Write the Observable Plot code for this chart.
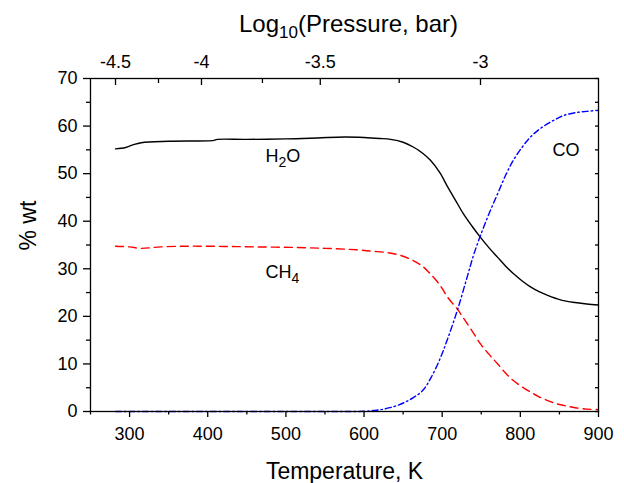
<!DOCTYPE html>
<html>
<head>
<meta charset="utf-8">
<script src="https://cdn.jsdelivr.net/npm/d3@7"></script>
<script src="https://cdn.jsdelivr.net/npm/@observablehq/plot@0.6"></script>
<style>
  html, body { margin: 0; padding: 0; background: #fff; }
  #chart svg { display: block; }
</style>
</head>
<body>
<div id="chart"></div>
<script>
// ---- Data ----
const h2oT = [282, 295, 305, 315, 350, 408, 412, 450, 500, 540, 575, 600, 620, 634, 650, 663, 675, 685, 697, 707, 717, 727, 738, 749, 760, 771, 781, 791, 802, 813, 824, 835, 845, 855, 870, 885, 900];
const h2oV = [55.2, 55.5, 56.1, 56.5, 56.8, 57.0, 57.2, 57.2, 57.3, 57.5, 57.7, 57.6, 57.4, 57.2, 56.6, 55.6, 54.3, 52.8, 50.2, 47.2, 44.4, 41.6, 39.0, 36.6, 34.4, 32.4, 30.6, 29.0, 27.5, 26.2, 25.2, 24.4, 23.8, 23.3, 22.9, 22.6, 22.4];

const ch4T = [282, 300, 314, 340, 378, 420, 460, 506, 550, 590, 610, 630, 647, 663, 675, 685, 697, 707, 720, 727, 738, 749, 760, 771, 781, 791, 802, 813, 824, 835, 845, 855, 870, 885, 900];
const ch4V = [34.75, 34.6, 34.3, 34.6, 34.75, 34.7, 34.6, 34.5, 34.3, 34.0, 33.7, 33.4, 32.8, 31.7, 30.5, 28.9, 26.6, 24.0, 21.4, 19.7, 17.0, 14.2, 12.0, 10.0, 8.1, 6.5, 5.2, 4.1, 3.1, 2.3, 1.7, 1.3, 0.8, 0.5, 0.4];

const coT = [282, 400, 500, 580, 601, 612, 622, 633, 643, 653, 663, 675, 685, 697, 707, 720, 732, 740, 749, 760, 771, 781, 791, 802, 813, 824, 835, 845, 855, 870, 885, 900];
const coV = [0, 0, 0, 0, 0.05, 0.2, 0.4, 0.8, 1.3, 2.0, 2.9, 4.4, 6.9, 11.0, 15.3, 21.6, 28.3, 32.8, 37.0, 41.6, 45.8, 49.6, 52.8, 55.5, 57.7, 59.3, 60.5, 61.4, 62.2, 62.8, 63.1, 63.3];

// curve labels
const labelText = ["H2O", "CH4", "CO"];
const labelT = [474, 474, 841];
const labelV = [53.7, 29.3, 55.0];

// bottom axis (Temperature, K)
const tempMajor = [300, 400, 500, 600, 700, 800, 900];
const tempMinor = [250, 350, 450, 550, 650, 750, 850];
// left axis (% wt)
const wtMajor = [0, 10, 20, 30, 40, 50, 60, 70];
const wtMinor = [5, 15, 25, 35, 45, 55, 65];
const wtRight = [0, 5, 10, 15, 20, 25, 30, 35, 40, 45, 50, 55, 60, 65, 70];
// top axis: Log10(Pressure, bar) ticks, placed at their temperature positions
const pressureMajorLabel = ["-4.5", "-4", "-3.5", "-3"];
const pressureMajorT = [282, 392, 544, 749];
const pressureMinorT = [337, 470, 645];

const FONT = "'Liberation Sans', Arial, Helvetica, sans-serif";
const pMap = new Map(pressureMajorT.map((t, i) => [t, pressureMajorLabel[i]]));

const plot = Plot.plot({
  width: 624,
  height: 483,
  marginLeft: 90,
  marginRight: 26,
  marginTop: 78,
  marginBottom: 72,
  style: { fontFamily: FONT, fontSize: "18px", color: "#000", background: "#fff" },
  x: { domain: [250, 900], axis: null },
  y: { domain: [0, 70], axis: null },
  marks: [
    Plot.line(h2oV, { x: h2oT, y: h2oV, stroke: "#000", strokeWidth: 1.4, curve: "catmull-rom" }),
    Plot.line(ch4V, { x: ch4T, y: ch4V, stroke: "#ff0000", strokeWidth: 1.4, strokeDasharray: "8,5", curve: "catmull-rom" }),
    Plot.line(coV, { x: coT, y: coV, stroke: "#0000ff", strokeWidth: 1.4, strokeDasharray: "6,3,1.5,3", curve: "catmull-rom" }),
    Plot.text(labelText, { x: labelT, y: labelV, text: labelText, textAnchor: "start", lineAnchor: "middle", fontSize: 18, fill: "#000" }),
    Plot.frame({ stroke: "#000", strokeWidth: 1.3 }),
    // bottom axis
    Plot.axisX({ anchor: "bottom", ticks: tempMajor, tickSize: 6, strokeWidth: 1.3, fill: "none" }),
    Plot.axisX({ anchor: "bottom", ticks: tempMinor, tickSize: 3.5, strokeWidth: 1.3, fill: "none" }),
    Plot.axisX({ anchor: "bottom", ticks: tempMajor, tickSize: 0, tickPadding: 16, tickFormat: d => String(d), label: null }),
    // left axis
    Plot.axisY({ anchor: "left", ticks: wtMajor, tickSize: 7, strokeWidth: 1.3, fill: "none" }),
    Plot.axisY({ anchor: "left", ticks: wtMinor, tickSize: 4, strokeWidth: 1.3, fill: "none" }),
    Plot.axisY({ anchor: "left", ticks: wtMajor, tickSize: 0, tickPadding: 13, tickFormat: d => String(d), label: null }),
    // right axis (inward ticks)
    Plot.axisY({ anchor: "right", ticks: wtRight, tickSize: 4, dx: -4, strokeWidth: 1.3, fill: "none" }),
    // top axis (inward ticks)
    Plot.axisX({ anchor: "top", ticks: pressureMajorT, tickSize: 6, dy: 6, strokeWidth: 1.3, fill: "none" }),
    Plot.axisX({ anchor: "top", ticks: pressureMinorT, tickSize: 4, dy: 4, strokeWidth: 1.3, fill: "none" }),
    Plot.axisX({ anchor: "top", ticks: pressureMajorT, tickSize: 0, tickPadding: 11, tickFormat: d => pMap.get(d), label: null }),
    // axis titles
    Plot.text(["Log10(Pressure, bar)"], { frameAnchor: "top", text: d => d, lineAnchor: "bottom", dy: -46.5, dx: 4, fontSize: 24, fill: "#000" }),
    Plot.text(["Temperature, K"], { frameAnchor: "bottom", text: d => d, lineAnchor: "bottom", dy: 67, fontSize: 23, fill: "#000" }),
    Plot.text(["% wt"], { frameAnchor: "left", text: d => d, rotate: -90, lineAnchor: "bottom", dx: -55, dy: 5.5, fontSize: 23, fill: "#000" })
  ]
});

document.getElementById("chart").appendChild(plot);

// subscripts
const subs = {
  "H2O": [["H", 0, null], ["2", 5, 14], ["O", -5, null]],
  "CH4": [["CH", 0, null], ["4", 5, 14]],
  "Log10(Pressure, bar)": [["Log", 0, null], ["10", 6, 17], ["(Pressure, bar)", -6, null]]
};
plot.querySelectorAll("text").forEach(el => {
  const key = el.textContent;
  if (!(key in subs)) return;
  while (el.firstChild) el.removeChild(el.firstChild);
  for (const [s, dy, fs] of subs[key]) {
    const ts = document.createElementNS("http://www.w3.org/2000/svg", "tspan");
    ts.textContent = s;
    if (dy) ts.setAttribute("dy", dy);
    if (fs) ts.setAttribute("font-size", fs);
    el.appendChild(ts);
  }
});
</script>
</body>
</html>
